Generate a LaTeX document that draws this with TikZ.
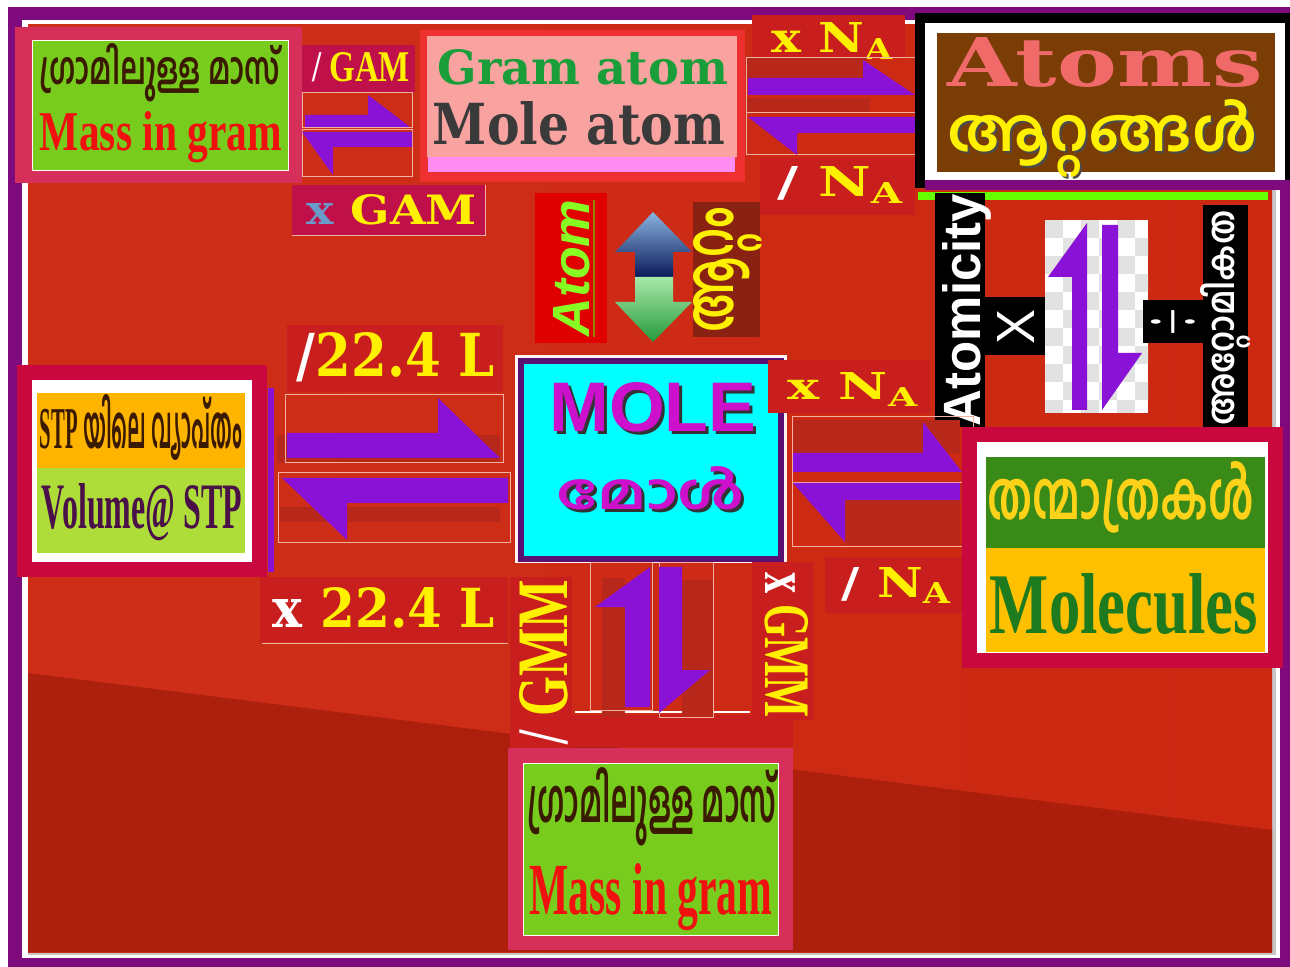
\documentclass[tikz,border=0pt]{standalone}
\usepackage{fontspec}
\usepackage{graphicx}
\setmainfont{Liberation Serif}
\newfontfamily\mlfont[Script=Malayalam]{Hind Kochi}
\newfontfamily\wideserif{DejaVu Serif}
\newfontfamily\sansfont{Liberation Sans}
\usetikzlibrary{positioning}
\definecolor{framep}{HTML}{7E0A7E}
\definecolor{bgA}{HTML}{CE2E18}
\definecolor{bgB}{HTML}{EA4A2C}
\definecolor{bgC}{HTML}{CC2812}
\definecolor{bandA}{HTML}{AC200E}
\definecolor{bandB}{HTML}{C0341C}
\definecolor{bandC}{HTML}{AC1E0C}
\definecolor{crimA}{HTML}{D6305A}
\definecolor{crimB}{HTML}{C8083F}
\definecolor{mgreen}{HTML}{78CC1E}
\definecolor{mldark}{HTML}{3A1A00}
\definecolor{massred}{HTML}{F01010}
\definecolor{pinkb}{HTML}{EE3030}
\definecolor{pinkf}{HTML}{F9A3A0}
\definecolor{magstrip}{HTML}{FF8CF0}
\definecolor{gramg}{HTML}{1A9E3A}
\definecolor{moleg}{HTML}{3A3A3A}
\definecolor{labred}{HTML}{C81E1E}
\definecolor{labcrim}{HTML}{C0104A}
\definecolor{yelw}{HTML}{FFF000}
\definecolor{xblue}{HTML}{6A9ACA}
\definecolor{brownb}{HTML}{7A3D05}
\definecolor{salmon}{HTML}{F06A6A}
\definecolor{lgreen}{HTML}{66FF00}
\definecolor{atomred}{HTML}{E00000}
\definecolor{atomg}{HTML}{88FF22}
\definecolor{mlbrown}{HTML}{8A2214}
\definecolor{blueL}{HTML}{8AB4E0}
\definecolor{blueD}{HTML}{0A1A5A}
\definecolor{greenL}{HTML}{A8E8A8}
\definecolor{greenD}{HTML}{259A3C}
\definecolor{molebd}{HTML}{5A1070}
\definecolor{molecyan}{HTML}{00FFFF}
\definecolor{molemag}{HTML}{CC10CC}
\definecolor{stporange}{HTML}{FFB400}
\definecolor{stpgreen}{HTML}{AEDD3A}
\definecolor{volc}{HTML}{4A1048}
\definecolor{molgreen}{HTML}{3A8A18}
\definecolor{molyel}{HTML}{FFD21A}
\definecolor{molorange}{HTML}{FFC000}
\definecolor{moltext}{HTML}{1E7A1E}
\definecolor{arrp}{HTML}{8A12D6}
\definecolor{arrdark}{HTML}{B8281A}
\definecolor{boxln}{HTML}{F4B0A0}
\definecolor{chk}{HTML}{E2E2E2}
\tikzset{
  txt/.style={inner sep=0pt,anchor=base},
  vtxt/.style={inner sep=0pt,anchor=base,rotate=90},
  arrbox/.style={draw=boxln,line width=0.5pt},
  harp/.style={fill=arrp}
}
% text squeezed into a given width and height (pt)
\newcommand{\fitt}[3]{\resizebox{#1pt}{#2pt}{#3}}
% harpoons: right (barb up), left (barb down), up (barb left), down (barb right)
\newcommand{\rharp}[6]{\fill[harp] (#1,#4) -- (#3,#4) -- (#3,#6) -- (#2,#5) -- (#1,#5) -- cycle;}
\newcommand{\lharp}[6]{\fill[harp] (#1,#4) -- (#2,#4) -- (#2,#5) -- (#3,#5) -- (#3,#6) -- cycle;}
\newcommand{\uharp}[6]{\fill[harp] (#2,#4) -- (#2,#3) -- (#1,#3) -- (#1,#6) -- (#5,#6) -- cycle;}
\newcommand{\dharp}[6]{\fill[harp] (#1,#3) -- (#2,#3) -- (#2,#6) -- (#5,#6) -- (#1,#4) -- cycle;}

\begin{document}
\begin{tikzpicture}[x=0.5pt,y=-0.5pt]
\useasboundingbox (0,0) rectangle (1290,967);
% frame and background
\fill[white] (0,0) rectangle (1290,967);
\fill[framep] (8,7) rectangle (1290,967);
\fill[white] (22,20) rectangle (1280,958);
\fill[gray!45] (28,25) rectangle (1276,955);
\shade[left color=bgA,middle color=bgB,right color=bgC] (28,25) rectangle (1272,952);
\shade[left color=bandA,middle color=bandB,right color=bandC] (28,673) -- (1272,830) -- (1272,952) -- (28,952) -- cycle;

% mass in gram (top left)
\fill[crimA] (15,27) rectangle (302,183);
\draw[white,fill=mgreen] (32,40) rectangle (288,170);
\node[txt,mldark] (mlmass1) at (160,85) {\fitt{120}{20.5}{\mlfont\bfseries ഗ്രാമിലുള്ള മാസ്}};
\node[txt,massred] (mass1) at (161,151) {\fitt{121}{19.5}{\bfseries Mass in gram}};

\fill[labcrim] (302,45) rectangle (415,92);
\node[txt,yelw] (gamdiv) at (361,82) {\fitt{49}{14.5}{\bfseries{\color{white}/} GAM}};
\draw[arrbox] (302,93) rectangle (412,128);
\draw[arrbox] (302,130) rectangle (412,177);
\rharp{305}{410}{368}{115}{127}{95}
\lharp{302}{412}{333}{132}{147}{175}
\fill[labcrim] (292,185) rectangle (485,235);
\draw[boxln] (292,235) -- (485,235) -- (485,185);
\node[txt,yelw] (gammul) at (392,225) {\fitt{85}{15}{\wideserif\bfseries{\color{xblue}x} GAM}};

% gram atom
\fill[pinkb] (420,30) rectangle (745,182);
\fill[pinkf] (427,36) rectangle (737,157);
\fill[magstrip] (428,157) rectangle (735,172);
\node[txt,gramg] (gramatom) at (583,85) {\fitt{145}{17.5}{\wideserif\bfseries Gram atom}};
\node[txt,moleg] (moleatom) at (579,145) {\fitt{146}{21.5}{\wideserif\bfseries Mole atom}};

% gram atom <-> atoms
\fill[labred] (752,15) rectangle (905,58);
\node[txt,yelw] (namul1) at (833,53) {\fitt{61.5}{15}{\wideserif\bfseries x N\textsubscript{A}}};
\fill[arrdark] (746,58) rectangle (867,78);
\fill[arrdark] (746,98) rectangle (870,113);
\draw[arrbox] (746,58) rectangle (915,113);
\draw[arrbox] (746,113) rectangle (915,155);
\rharp{748}{915}{863}{78}{95}{60}
\lharp{748}{915}{797}{117}{133}{155}
\fill[labred] (760,158) rectangle (915,215);
\node[txt,yelw] (nadiv1) at (841,197) {\fitt{64}{15}{\wideserif\bfseries{\color{white}/} N\textsubscript{A}}};

% atoms
\fill[black] (915,13) rectangle (1290,188);
\fill[white] (925,23) rectangle (1285,180);
\fill[brownb] (937,33) rectangle (1275,172);
\fill[framep] (925,180) rectangle (1290,190);
\fill[lgreen] (918,192) rectangle (1268,200);
\node[txt,salmon] (atoms) at (1105,87) {\fitt{157.5}{24.5}{\wideserif\bfseries Atoms}};
\node[txt,black!70] (atomsmlsh) at (1105,154) {\fitt{155}{26}{\mlfont\bfseries ആറ്റങ്ങൾ}};
\node[txt,yelw] (atomsml) at (1103,152) {\fitt{155}{26}{\mlfont\bfseries ആറ്റങ്ങൾ}};

% atom <-> mole
\fill[atomred] (535,193) rectangle (607,343);
\draw[olive,line width=1.2pt] (594,200) -- (594,337);
\node[vtxt,atomg] (atomv) at (589,268) {\fitt{68.5}{18}{\sansfont\bfseries\itshape Atom}};
\shade[top color=blueL,bottom color=blueD] (653,212) -- (692,252) -- (673,252) -- (673,277) -- (635,277) -- (635,252) -- (615,252) -- cycle;
\shade[top color=greenL,bottom color=greenD] (635,277) -- (673,277) -- (673,302) -- (692,302) -- (653,342) -- (615,302) -- (635,302) -- cycle;
\fill[mlbrown] (693,202) rectangle (760,337);
\node[inner sep=0pt,rotate=90,yelw] (atommlv) at (728,270) {\fitt{62.5}{20}{\mlfont\bfseries ആറ്റം}};

% atomicity
\fill[black] (935,193) rectangle (985,427);
\node[vtxt,white] (atomicity) at (980,310) {\fitt{116}{19}{\sansfont\bfseries Atomicity}};
\fill[black] (985,297) rectangle (1045,355);
\node[vtxt,white] (times) at (1034,327) {\fitt{17.5}{18.5}{\sansfont X}};
\begin{scope}
\clip (1045,220) rectangle (1148,413);
\fill[white] (1045,220) rectangle (1148,413);
\foreach \cx in {1045,1081,1117}{
  \foreach \cy in {220,256,...,412}{
    \fill[chk] (\cx,\cy) rectangle +(18,18);
    \fill[chk] ({\cx+18},{\cy+18}) rectangle +(18,18);
  }
}
\end{scope}
\uharp{1072}{1087}{410}{223}{1048}{277}
\dharp{1102}{1118}{225}{410}{1142}{353}
\fill[black] (1143,300) rectangle (1203,343);
\node[inner sep=0pt,rotate=90,white] (divide) at (1173,322) {\fitt{13.5}{23}{$\div$}};
\fill[black] (1203,205) rectangle (1248,427);
\node[inner sep=0pt,rotate=90,white] (atomicityml) at (1226,318) {\fitt{107.5}{17}{\mlfont\bfseries അറ്റോമികത}};

% volume at STP
\fill[crimB] (17,365) rectangle (267,577);
\fill[white] (32,380) rectangle (252,562);
\fill[stporange] (37,393) rectangle (245,468);
\fill[stpgreen] (37,468) rectangle (245,553);
\fill[arrp] (268,388) rectangle (274,572);
\node[txt,mldark] (stpml) at (141,449) {\fitt{101}{27}{\bfseries STP\ {\mlfont\bfseries യിലെ വ്യാപ്തം}}};
\node[txt,volc] (volume) at (142,529) {\fitt{100}{22.5}{\bfseries Volume@ STP}};

\fill[labred] (287,325) rectangle (503,392);
\node[txt,yelw] (ldiv) at (396,377) {\fitt{99}{22}{\wideserif\bfseries{\color{white}/}22.4 L}};
\fill[arrdark] (277,435) rectangle (500,463);
\fill[arrdark] (280,507) rectangle (500,522);
\draw[arrbox] (285,395) rectangle (503,463);
\draw[arrbox] (278,473) rectangle (510,543);
\rharp{287}{500}{438}{433}{458}{398}
\lharp{282}{508}{347}{478}{503}{540}
\fill[labred] (260,577) rectangle (508,642);
\draw[boxln] (262,643) -- (508,643);
\node[txt,yelw] (lmul) at (384,627) {\fitt{111}{20}{\wideserif\bfseries{\color{white}x} 22.4 L}};

% mole
\fill[white!80!pink] (515,355) rectangle (787,563);
\fill[molebd] (518,358) rectangle (784,562);
\fill[molecyan] (524,364) rectangle (778,556);
\node[txt,black!80] (molesh) at (656,435) {\fitt{103.5}{24.5}{\sansfont\bfseries MOLE}};
\node[txt,molemag] (mole) at (653,432) {\fitt{103.5}{24.5}{\sansfont\bfseries MOLE}};
\node[txt,black!80] (molemlsh) at (654,513) {\fitt{94}{21.5}{\mlfont\bfseries മോൾ}};
\node[txt,molemag] (moleml) at (651,510) {\fitt{94}{21.5}{\mlfont\bfseries മോൾ}};

% mole <-> molecules
\fill[labred] (768,360) rectangle (930,413);
\node[txt,yelw] (namul2) at (854,400) {\fitt{66}{13.5}{\wideserif\bfseries x N\textsubscript{A}}};
\fill[arrdark] (793,420) rectangle (960,453);
\fill[arrdark] (845,500) rectangle (960,545);
\draw[arrbox] (792,417) rectangle (973,483);
\draw[arrbox] (792,483) rectangle (962,547);
\rharp{793}{962}{923}{453}{472}{422}
\lharp{793}{960}{845}{483}{500}{542}
\fill[labred] (825,557) rectangle (962,613);
\node[txt,yelw] (nadiv2) at (897,597) {\fitt{55.5}{15}{\wideserif\bfseries{\color{white}/} N\textsubscript{A}}};

% molecules
\fill[crimB] (962,427) rectangle (1283,668);
\fill[white] (977,442) rectangle (1268,653);
\fill[molgreen] (986,457) rectangle (1265,548);
\fill[molorange] (986,548) rectangle (1265,652);
\node[txt,molyel] (moleculesml) at (1121,520) {\fitt{133.5}{29}{\mlfont\bfseries തന്മാത്രകൾ}};
\node[txt,moltext] (molecules) at (1124,633) {\fitt{134}{30}{\bfseries Molecules}};

% mole <-> mass in gram
\fill[labred] (510,715) rectangle (793,747);
\draw[white,line width=1pt] (575,712) -- (750,712);
\fill[arrdark] (602,578) rectangle (625,717);
\fill[arrdark] (682,580) rectangle (713,717);
\draw[arrbox] (590,563) rectangle (652,710);
\draw[arrbox] (659,563) rectangle (713,717);
\uharp{625}{650}{707}{567}{595}{607}
\dharp{659}{682}{567}{713}{710}{670}
\fill[labred] (510,577) rectangle (572,748);
\node[vtxt,yelw] (gmmdiv) at (567,662) {\fitt{82}{24}{\bfseries{\color{white}/ }GMM}};
\fill[labred] (752,562) rectangle (813,720);
\node[txt,rotate=-90,yelw] (gmmmul) at (765,645) {\fitt{72.5}{21.5}{\bfseries{\color{white}x }GMM}};

% mass in gram (bottom)
\fill[crimA] (508,748) rectangle (793,950);
\draw[white,fill=mgreen] (523,763) rectangle (778,935);
\node[txt,mldark] (mlmass2) at (652,822) {\fitt{124.5}{27.5}{\mlfont\bfseries ഗ്രാമിലുള്ള മാസ്}};
\node[txt,massred] (mass2) at (651,914) {\fitt{121.5}{25.5}{\bfseries Mass in gram}};
\end{tikzpicture}
\end{document}
